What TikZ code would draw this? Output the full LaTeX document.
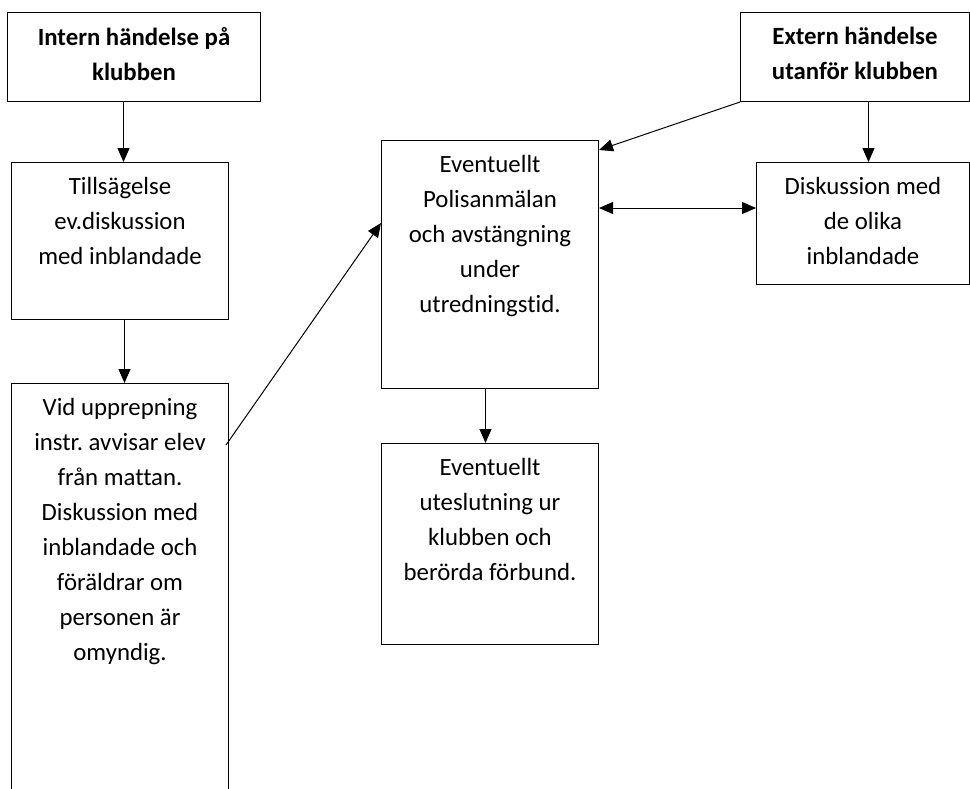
\documentclass[tikz,border=0pt]{standalone}
\usepackage{fontspec}
\setmainfont[Ligatures=NoCommon]{Carlito}
\frenchspacing
\usetikzlibrary{arrows.meta}

\tikzstyle{flowbox} = [draw=black, fill=white, line width=1pt,
    rectangle, inner sep=0pt, anchor=north west]
\tikzstyle{flowarrow} = [line width=1pt, -{Triangle[length=14pt,width=12pt]}]
\tikzstyle{bothway} = [line width=1pt,
    {Triangle[length=14pt,width=12pt]}-{Triangle[length=14pt,width=12pt]}]

% Breite, Hoehe, Text (oben ausgerichtet)
\newcommand{\boxtext}[3]{%
    \begin{minipage}[t][#2][t]{#1}\centering\vspace*{15pt}#3\end{minipage}}

\begin{document}
\begin{tikzpicture}[x=1pt, y=-1pt, font=\fontsize{24.8}{35}\selectfont]
    \clip (0,0) rectangle (970,788);
%------------ interne Ereignisse ---------------------
    \node [flowbox] (intern) at (7,12) {\boxtext{253pt}{89pt}{%
        \bfseries Intern händelse på\\ klubben}};
    \node [flowbox] (tillsag) at (11,162) {\boxtext{217pt}{157pt}{%
        Tillsägelse\\ ev.diskussion\\ med inblandade}};
    \node [flowbox] (upprep) at (11,383) {\boxtext{217pt}{420pt}{%
        Vid upprepning\\ instr. avvisar elev\\ från mattan.\\ Diskussion med\\
        inblandade och\\ föräldrar om\\ personen är\\ omyndig.}};
%------------ Polis und Ausschluss ---------------------
    \node [flowbox] (polis) at (381,140) {\boxtext{217pt}{248pt}{%
        Eventuellt\\ Polisanmälan\\ och avstängning\\ under\\ utredningstid.}};
    \node [flowbox] (utesl) at (381,443) {\boxtext{217pt}{201pt}{%
        Eventuellt\\ uteslutning ur\\ klubben och\\ berörda förbund.}};
%------------ externe Ereignisse ---------------------
    \node [flowbox] (extern) at (740,12) {\boxtext{229pt}{89pt}{%
        \bfseries Extern händelse\\ utanför klubben}};
    \node [flowbox] (diskussion) at (756,162) {\boxtext{213pt}{122pt}{%
        Diskussion med\\ de olika\\ inblandade}};
%------------ Pfeile ---------------------
    \draw [flowarrow] ([xshift=-10.5pt]intern.south) -- ([xshift=3.5pt]tillsag.north);
    \draw [flowarrow] ([xshift=4.5pt]tillsag.south) -- ([xshift=4.5pt]upprep.north);
    \draw [flowarrow] ([xshift=-3pt,yshift=-62pt]upprep.north east) -- ([yshift=-83pt]polis.north west);
    \draw [flowarrow] (extern.south west) -- ([yshift=-10pt]polis.north east);
    \draw [bothway] ([yshift=-68pt]polis.north east) -- ([yshift=-46pt]diskussion.north west);
    \draw [flowarrow] ([xshift=-4.5pt]polis.south) -- ([xshift=-4.5pt]utesl.north);
    \draw [flowarrow] ([xshift=13.5pt]extern.south) -- ([xshift=5.5pt]diskussion.north);
\end{tikzpicture}
\end{document}
